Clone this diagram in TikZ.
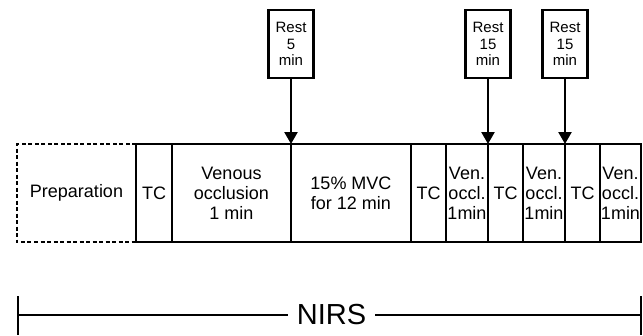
\documentclass[tikz,border=0pt]{standalone}
\usepackage{fontspec}
\setmainfont{Liberation Sans}
\usetikzlibrary{positioning,arrows.meta}

\begin{document}
\begin{tikzpicture}[x=1pt,y=-1pt,line width=2.4pt,
  >={Triangle[width=13pt,length=12pt]},
  seg/.style={draw,rectangle,outer sep=0pt,inner xsep=0pt,minimum height=98pt,
    align=center,font=\fontsize{18}{20}\selectfont},
  restbox/.style={draw,rectangle,outer sep=0pt,inner xsep=0pt,minimum width=45pt,
    minimum height=68pt,align=center,font=\fontsize{15}{16.5}\selectfont}]

\useasboundingbox (0,0) rectangle (643,335);

% ------------------------------------------------------------------
% Protocol time line (segments side by side)
% ------------------------------------------------------------------
\node[seg,draw=none,minimum width=119pt] (prep) at (76.5,193) {Preparation};
\draw[dash pattern=on 4pt off 2.5pt]
  (prep.north east) -- (prep.north west) -- (prep.south west) -- (prep.south east);

\node[seg,minimum width=36pt,right=0pt of prep] (tc1) {TC};
\node[seg,minimum width=119pt,right=0pt of tc1] (occ) {Venous\\occlusion\\1 min};
\node[seg,minimum width=120pt,right=0pt of occ] (mvc) {15\% MVC\\for 12 min};
\node[seg,minimum width=35pt,right=0pt of mvc] (tc2) {TC};
\node[seg,minimum width=42pt,right=0pt of tc2] (ven1) {Ven.\\occl.\\1min};
\node[seg,minimum width=35pt,right=0pt of ven1] (tc3) {TC};
\node[seg,minimum width=42pt,right=0pt of tc3] (ven2) {Ven.\\occl.\\1min};
\node[seg,minimum width=35pt,right=0pt of ven2] (tc4) {TC};
\node[seg,minimum width=41pt,right=0pt of tc4] (ven3) {Ven.\\occl.\\1min};

% ------------------------------------------------------------------
% Rest periods with arrows down to the time line
% ------------------------------------------------------------------
\node[restbox,above=66pt of occ.north east] (rest1) {Rest\\5\\min};
\node[restbox,above=66pt of ven1.north east] (rest2) {Rest\\15\\min};
\node[restbox,above=66pt of ven2.north east] (rest3) {Rest\\15\\min};

\draw[->] (rest1) -- (occ.north east);
\draw[->] (rest2) -- (ven1.north east);
\draw[->] (rest3) -- (ven2.north east);

% ------------------------------------------------------------------
% NIRS recording span underneath
% ------------------------------------------------------------------
\node[inner xsep=8pt,font=\fontsize{29}{30}\selectfont] (nirs) at (331.5,315) {NIRS};
\coordinate (nleft) at (18,315);
\coordinate (nright) at (641,315);

\draw (nleft) -- (nirs);
\draw (nirs) -- (nright);
\draw ([yshift=19pt]nleft) -- ([yshift=-20pt]nleft);
\draw ([yshift=19pt]nright) -- ([yshift=-20pt]nright);

\end{tikzpicture}
\end{document}
